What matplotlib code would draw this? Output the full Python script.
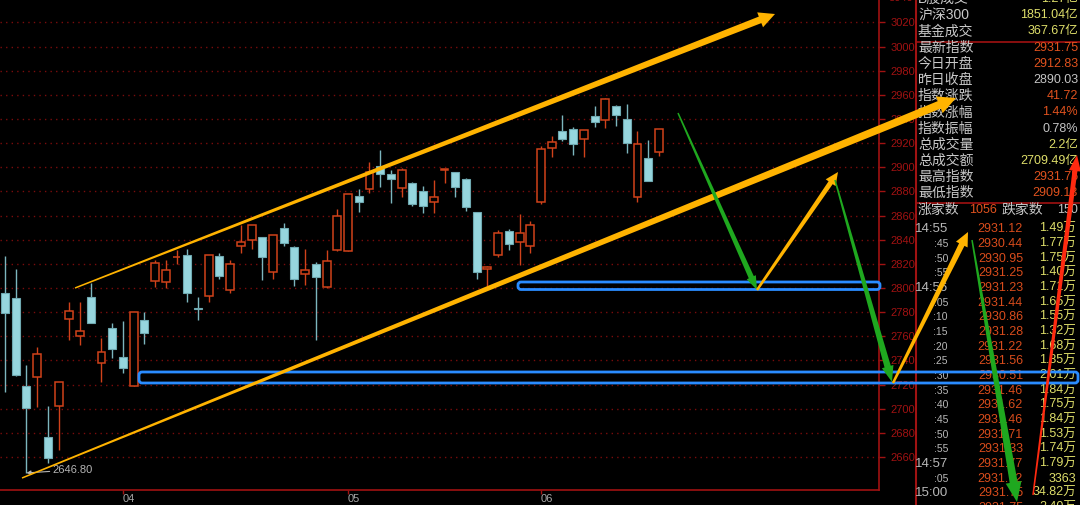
import numpy as np
import matplotlib
matplotlib.use('Agg')
import matplotlib.pyplot as plt
from matplotlib.patches import Polygon, FancyBboxPatch

# daily index candles
opens = [2796.1, 2792.0, 2718.8, 2726.0, 2676.8, 2702.3, 2774.1, 2760.5, 2792.8, 2738.1,
         2766.6, 2742.8, 2719.1, 2773.3, 2805.8, 2805.2, 2825.5, 2827.4, 2783.2, 2793.6,
         2826.5, 2798.1, 2834.8, 2839.5, 2842.0, 2813.3, 2850.0, 2834.2, 2811.4, 2819.7,
         2800.6, 2831.5, 2830.9, 2876.2, 2881.8, 2901.1, 2894.5, 2882.6, 2887.3, 2880.4,
         2871.5, 2897.5, 2896.4, 2890.3, 2862.7, 2815.5, 2827.4, 2847.2, 2837.9, 2834.8,
         2871.0, 2915.8, 2930.1, 2931.5, 2923.2, 2942.5, 2939.2, 2951.0, 2939.8, 2875.7,
         2908.0, 2912.8]
highs = [2826.5, 2815.5, 2736.2, 2750.9, 2702.5, 2722.0, 2788.2, 2788.2, 2804.4, 2758.8,
         2770.8, 2772.7, 2780.5, 2779.9, 2823.2, 2823.2, 2831.5, 2832.1, 2792.8, 2827.5,
         2829.3, 2823.2, 2852.2, 2852.5, 2842.5, 2844.0, 2853.6, 2834.5, 2832.3, 2821.3,
         2831.5, 2865.5, 2878.0, 2881.8, 2904.2, 2914.3, 2897.8, 2899.7, 2887.5, 2884.5,
         2889.5, 2898.4, 2896.5, 2891.4, 2863.0, 2818.0, 2848.1, 2848.6, 2861.3, 2855.5,
         2917.7, 2926.0, 2943.3, 2933.2, 2931.0, 2950.8, 2957.0, 2951.2, 2952.5, 2930.1,
         2922.6, 2931.8]
lows = [2714.1, 2727.5, 2646.8, 2701.7, 2655.3, 2665.8, 2756.9, 2752.5, 2771.0, 2722.4,
        2741.8, 2729.3, 2718.5, 2753.4, 2801.1, 2799.8, 2819.9, 2788.7, 2773.5, 2788.2,
        2807.5, 2795.6, 2829.3, 2832.3, 2806.6, 2807.5, 2835.1, 2801.7, 2802.5, 2756.9,
        2800.0, 2831.0, 2830.5, 2863.2, 2878.5, 2884.0, 2870.2, 2875.2, 2868.2, 2862.4,
        2861.9, 2887.3, 2875.7, 2863.8, 2807.2, 2801.9, 2825.5, 2831.5, 2819.1, 2828.8,
        2870.0, 2908.8, 2922.0, 2910.2, 2908.8, 2933.7, 2932.3, 2934.2, 2911.6, 2871.5,
        2888.5, 2909.1]
closes = [2779.1, 2727.9, 2700.8, 2745.1, 2658.9, 2721.9, 2781.2, 2764.4, 2771.3, 2746.7,
          2749.2, 2733.5, 2779.9, 2762.7, 2820.5, 2814.7, 2826.0, 2795.6, 2782.4, 2827.1,
          2810.2, 2819.7, 2837.9, 2852.0, 2826.0, 2843.7, 2837.0, 2807.7, 2814.7, 2809.1,
          2822.4, 2859.9, 2877.6, 2871.0, 2896.0, 2894.2, 2890.6, 2897.5, 2869.6, 2868.0,
          2875.2, 2898.4, 2883.4, 2867.1, 2813.0, 2817.7, 2845.8, 2836.2, 2845.8, 2852.0,
          2915.2, 2921.2, 2923.2, 2919.1, 2930.7, 2937.3, 2956.4, 2943.3, 2920.4, 2919.1,
          2888.9, 2931.8]
month_pos = [11, 32, 50]
month_labels = ['04', '05', '06']
low_idx, low_val = 2, 2646.80

# quote panel on the right
info_labels = ['B股成交', '沪深300', '基金成交', '最新指数', '今日开盘', '昨日收盘', '指数涨跌',
               '指数涨幅', '指数振幅', '总成交量', '总成交额', '最高指数', '最低指数']
info_values = ['1.27亿', '1851.04亿', '367.67亿', '2931.75', '2912.83', '2890.03', '41.72',
               '1.44%', '0.78%', '2.2亿', '2709.49亿', '2931.75', '2909.13']
info_kind = ['y', 'y', 'y', 'r', 'r', 'w', 'r', 'r', 'w', 'y', 'y', 'r', 'r']
up_count, down_count = '1056', '150'
tick_times = ['14:55', ':45', ':50', ':55', '14:56', ':05', ':10', ':15', ':20', ':25',
              ':30', ':35', ':40', ':45', ':50', ':55', '14:57', ':05', '15:00', '']
tick_prices = ['2931.12', '2930.44', '2930.95', '2931.25', '2931.23', '2931.44', '2930.86',
               '2931.28', '2931.22', '2931.56', '2930.51', '2931.46', '2931.62', '2931.46',
               '2931.71', '2931.33', '2931.77', '2931.72', '2931.75', '2931.75']
tick_vols = ['1.49万', '1.77万', '1.75万', '1.40万', '1.71万', '1.65万', '1.55万', '1.32万',
             '1.68万', '1.85万', '2.01万', '1.84万', '1.75万', '1.84万', '1.53万', '1.74万',
             '1.79万', '3363', '34.82万', '2.40万']

RED = '#d0421a'
CYAN = '#96d6de'
DARKRED = '#a01212'
YEL = '#ffb300'
GRN = '#1fa81f'
FONT = ['Liberation Sans', 'Noto Sans CJK SC', 'DejaVu Sans']
plt.rcParams['font.family'] = FONT

fig = plt.figure(figsize=(10.8, 5.05), dpi=100, facecolor='black')
ax = fig.add_axes([0, 15 / 505, 879 / 1080, 490 / 505])
ax.set_facecolor('black')

o, h, l, c = map(np.array, (opens, highs, lows, closes))
idx = np.arange(len(o))
up = c >= o
ax.vlines(idx[up], l[up], h[up], color=RED, lw=1, zorder=2)
ax.vlines(idx[~up], l[~up], h[~up], color='#7cb6be', lw=1, zorder=2)
ax.bar(idx[up], np.maximum(c[up] - o[up], 0.5), bottom=o[up], width=0.74,
       facecolor='black', edgecolor=RED, lw=1.1, zorder=3)
ax.bar(idx[~up], np.maximum(o[~up] - c[~up], 0.5), bottom=c[~up], width=0.74,
       facecolor=CYAN, edgecolor='#6fa9b1', lw=0.8, zorder=3)

ax.annotate(f'{low_val:.2f}', xy=(low_idx, low_val), xytext=(26, 3), textcoords='offset pixels',
            color='#b4b4b4', fontsize=8, va='center', ha='left',
            arrowprops=dict(arrowstyle='-|>', color='#b4b4b4', lw=0.8, mutation_scale=6,
                            shrinkA=0, shrinkB=0))

ax.set_xlim(-0.466, 81.53)
ax.set_ylim(2632.66, 3038.6)
ax.set_yticks(np.arange(2660, 3021, 20))
ax.yaxis.tick_right()
ax.tick_params(axis='y', colors=DARKRED, length=4, width=1, labelsize=8, pad=4)
ax.set_xticks(month_pos)
ax.set_xticklabels(month_labels)
ax.tick_params(axis='x', colors=DARKRED, labelcolor='#a8a8a8', length=3, width=1,
               labelsize=8, pad=0)
for t in ax.get_xticklabels():
    t.set_ha('left')
ax.grid(axis='y', color='#7a0c0c', linestyle=(0, (1, 3)), lw=1)
for s in ('top', 'left'):
    ax.spines[s].set_visible(False)
for s in ('right', 'bottom'):
    ax.spines[s].set_color(DARKRED)
    ax.spines[s].set_linewidth(1.2)

# overlay in pixel units for panel and hand-drawn marks
ov = fig.add_axes([0, 0, 1, 1])
ov.set_xlim(0, 1080)
ov.set_ylim(505, 0)
ov.axis('off')
ov.patch.set_alpha(0)

ov.text(913, -1.7, '3040', color=DARKRED, fontsize=8, ha='right', va='center')
ov.plot([916, 916], [0, 505], color=DARKRED, lw=1.5)
ov.plot([916, 1080], [41.5, 41.5], color=DARKRED, lw=1.2)
ov.plot([916, 1080], [203, 203], color=DARKRED, lw=1.2)

kind_col = {'y': '#dede6a', 'r': '#e0521e', 'w': '#c4c4c4'}
for k, (lab, val, kd) in enumerate(zip(info_labels, info_values, info_kind)):
    y = -1 + 16.2 * k
    ov.text(918, y, lab, color='#c8c8c8', fontsize=10, ha='left', va='center')
    ov.text(1078, y, val, color=kind_col[kd], fontsize=9, ha='right', va='center')
y = -1 + 16.2 * 13
ov.text(918, y, '涨家数', color='#c8c8c8', fontsize=10, ha='left', va='center')
ov.text(997, y, up_count, color='#e0521e', fontsize=9, ha='right', va='center')
ov.text(1002, y, '跌家数', color='#c8c8c8', fontsize=10, ha='left', va='center')
ov.text(1078, y, down_count, color='#c4c4c4', fontsize=9, ha='right', va='center')

for k, (tm, pr, vo) in enumerate(zip(tick_times, tick_prices, tick_vols)):
    y = 229.3 + 14.67 * k
    ov.text(948, y, tm, color='#b8b8b8', fontsize=9.5 if len(tm) > 3 else 7.5,
            ha='right', va='center')
    ov.text(1023, y, pr, color='#d84c1c', fontsize=9, ha='right', va='center')
    ov.text(1076, y, vo, color='#dede6a', fontsize=9, ha='right', va='center')


def taper_arrow(p0, p1, w0, w1, hw, hl, color):
    (x0, y0), (x1, y1) = p0, p1
    L = np.hypot(x1 - x0, y1 - y0)
    ux, uy = (x1 - x0) / L, (y1 - y0) / L
    nx, ny = -uy, ux
    bx, by = x1 - ux * hl, y1 - uy * hl
    pts = [(x0 + nx * w0 / 2, y0 + ny * w0 / 2), (bx + nx * w1 / 2, by + ny * w1 / 2),
           (bx + nx * hw / 2, by + ny * hw / 2), (x1, y1),
           (bx - nx * hw / 2, by - ny * hw / 2), (bx - nx * w1 / 2, by - ny * w1 / 2),
           (x0 - nx * w0 / 2, y0 - ny * w0 / 2)]
    ov.add_patch(Polygon(pts, closed=True, fc=color, ec='none', zorder=5))


for x0, y0, x1, y1, rw in [(518, 282, 880, 289.5, 3), (139, 372, 1078, 383, 3)]:
    ov.add_patch(FancyBboxPatch((x0, y0), x1 - x0, y1 - y0,
                                boxstyle=f'round,pad=0,rounding_size={rw}',
                                fc='none', ec='#2a8cff', lw=2, zorder=4))

taper_arrow((75, 288), (775, 14), 1.5, 7, 16, 16, YEL)
taper_arrow((22, 478), (956, 98), 1.5, 8, 18, 18, YEL)
taper_arrow((678, 113), (757, 290), 1.5, 5.5, 10, 14, GRN)
taper_arrow((757, 290), (838, 172), 2.5, 5, 12, 13, YEL)
taper_arrow((835, 180), (892, 382), 1.5, 6.5, 12, 16, GRN)
taper_arrow((893, 383), (968, 232), 2.5, 6, 13, 14, YEL)
taper_arrow((972, 240), (1017, 502), 1.5, 8, 16, 20, GRN)
taper_arrow((1033, 495), (1077, 155), 1.5, 5, 12, 16, '#ff2a10')

fig.savefig('out.png', dpi=100, facecolor='black')
